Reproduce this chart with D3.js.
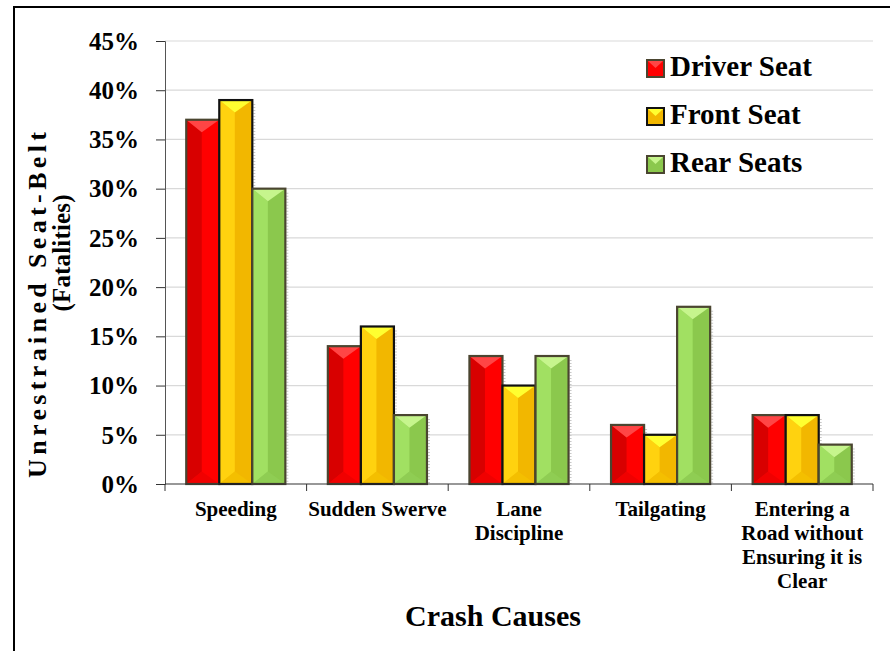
<!DOCTYPE html>
<html><head><meta charset="utf-8">
<script src="https://cdn.jsdelivr.net/npm/d3@7"></script>
<style>
html,body{margin:0;padding:0;background:#fff;}
svg{display:block;}
text{font-family:"Liberation Serif","Times New Roman",serif;font-weight:bold;fill:#000;}
</style></head>
<body>
<script>
const categories = [["Speeding"],["Sudden Swerve"],["Lane","Discipline"],["Tailgating"],["Entering a","Road without","Ensuring it is","Clear"]];
const series = ["Driver Seat","Front Seat","Rear Seats"];
const driverSeat = [0.37,0.14,0.13,0.06,0.07];
const frontSeat  = [0.39,0.16,0.10,0.05,0.07];
const rearSeats  = [0.30,0.07,0.13,0.18,0.04];
const yTicks = [0,0.05,0.10,0.15,0.20,0.25,0.30,0.35,0.40,0.45];
const values = [driverSeat, frontSeat, rearSeats];

const styles = [
  {base:"#ff0000", left:"#d80000", top:"#ff4545", bottom:"#e60000", stroke:"#4a4530"},
  {base:"#f2b700", left:"#ffd20f", top:"#ffff30", bottom:"#f5c400", stroke:"#111"},
  {base:"#8bc84d", left:"#a1e062", top:"#c6f58d", bottom:"#93d058", stroke:"#4a4530"}
];

const W=890,H=651;
const svg=d3.select("body").append("svg").attr("width",W).attr("height",H);
svg.append("rect").attr("width",W).attr("height",H).attr("fill","#fff");
svg.append("rect").attr("x",14).attr("y",7).attr("width",W).attr("height",H+10)
  .attr("fill","none").attr("stroke","#000").attr("stroke-width",2);

const x0=165,x1=873,yTop=41,yBot=484;
const catKeys=categories.map(c=>c.join(" "));
const x=d3.scaleBand().domain(catKeys).range([x0,x1]).paddingInner(0.3).paddingOuter(0.15);
const xs=d3.scaleBand().domain(series).range([0,x.bandwidth()]);
const y=d3.scaleLinear().domain([0,0.45]).range([yBot,yTop]);

// gridlines
svg.append("g").selectAll("line").data(yTicks.slice(1)).join("line")
  .attr("x1",x0).attr("x2",x1).attr("y1",d=>y(d)).attr("y2",d=>y(d))
  .attr("stroke","#d9d9d9").attr("stroke-width",1.2);

// y axis
const ya=svg.append("g").attr("transform",`translate(${x0},0)`)
  .call(d3.axisLeft(y).tickValues(yTicks).tickFormat(d3.format(".0%")).tickSize(9).tickPadding(17));
ya.select(".domain").attr("stroke","#555");
ya.selectAll(".tick line").attr("stroke","#333");
ya.selectAll(".tick text").style("font-size","25px").attr("dy","0.33em");

// bars
const groups=svg.append("g").selectAll("g").data(catKeys).join("g")
  .attr("transform",d=>`translate(${x(d)},0)`);
series.forEach((s,si)=>{
  const st=styles[si];
  groups.each(function(c,ci){
    const v=values[si][ci];
    const g=d3.select(this).append("g");
    const bx=xs(s), bw=xs.bandwidth();
    const by=y(v), bb=y(0), bh=bb-by;
    const xm=bx+bw*0.47, t=Math.min(bw*0.38,bh/2);
    g.append("line").attr("x1",bx+bw+2).attr("x2",bx+bw+2).attr("y1",by+4).attr("y2",bb)
      .attr("stroke","#c8c8c8").attr("stroke-width",2).attr("stroke-dasharray","1,2");
    g.append("rect").attr("x",bx).attr("y",by).attr("width",bw).attr("height",bh).attr("fill",st.base);
    g.append("polygon").attr("points",[[bx,by],[xm,by+t],[xm,bb-t],[bx,bb]].join(" ")).attr("fill",st.left);
    g.append("polygon").attr("points",[[bx,bb],[xm,bb-t],[bx+bw,bb]].join(" ")).attr("fill",st.bottom).attr("opacity",0.6);
    g.append("polygon").attr("points",[[bx,by],[bx+bw,by],[xm,by+t]].join(" ")).attr("fill",st.top);
    g.append("rect").attr("x",bx).attr("y",by).attr("width",bw).attr("height",bh)
      .attr("fill","none").attr("stroke",st.stroke).attr("stroke-width",2.2);
  });
});

// x axis
const xa=svg.append("g").attr("transform",`translate(0,${yBot})`);
xa.append("line").attr("x1",x0).attr("x2",x1).attr("stroke","#333").attr("stroke-width",1.2);
const bounds=catKeys.map(c=>x(c)-x.step()*x.paddingInner()/2);
bounds[0]=x0; bounds.push(x1);
xa.selectAll("line.tk").data(bounds).join("line").attr("class","tk")
  .attr("x1",d=>d).attr("x2",d=>d).attr("y1",0).attr("y2",7).attr("stroke","#333");
const xl=svg.append("g").selectAll("text").data(categories).join("text")
  .attr("x",(d,i)=>x(catKeys[i])+x.bandwidth()/2).attr("y",516)
  .attr("text-anchor","middle").style("font-size","21px");
xl.selectAll("tspan").data(d=>d).join("tspan")
  .attr("x",function(){return d3.select(this.parentNode).attr("x");})
  .attr("dy",(d,i)=>i?24:0).text(d=>d);

// axis titles
svg.append("text").attr("x",493).attr("y",626).attr("text-anchor","middle")
  .style("font-size","30px").text("Crash Causes");
svg.append("text").attr("transform","translate(46,305) rotate(-90)").attr("text-anchor","middle")
  .style("font-size","26px").attr("textLength",346).attr("lengthAdjust","spacing").text("Unrestrained Seat-Belt");
svg.append("text").attr("transform","translate(70,253) rotate(-90)").attr("text-anchor","middle")
  .style("font-size","25px").attr("textLength",117).attr("lengthAdjust","spacing").text("(Fatalities)");

// legend
const lg=svg.append("g").selectAll("g").data(series).join("g")
  .attr("transform",(d,i)=>`translate(647,${60+i*48})`);
lg.append("rect").attr("width",17).attr("height",17)
  .attr("fill",(d,i)=>styles[i].base).attr("stroke",(d,i)=>styles[i].stroke).attr("stroke-width",2);
lg.append("polygon").attr("points","1,1 16,1 8.5,8").attr("fill",(d,i)=>styles[i].top);
lg.append("text").attr("x",23).attr("y",16).style("font-size","29px").text(d=>d);
</script>
</body></html>
